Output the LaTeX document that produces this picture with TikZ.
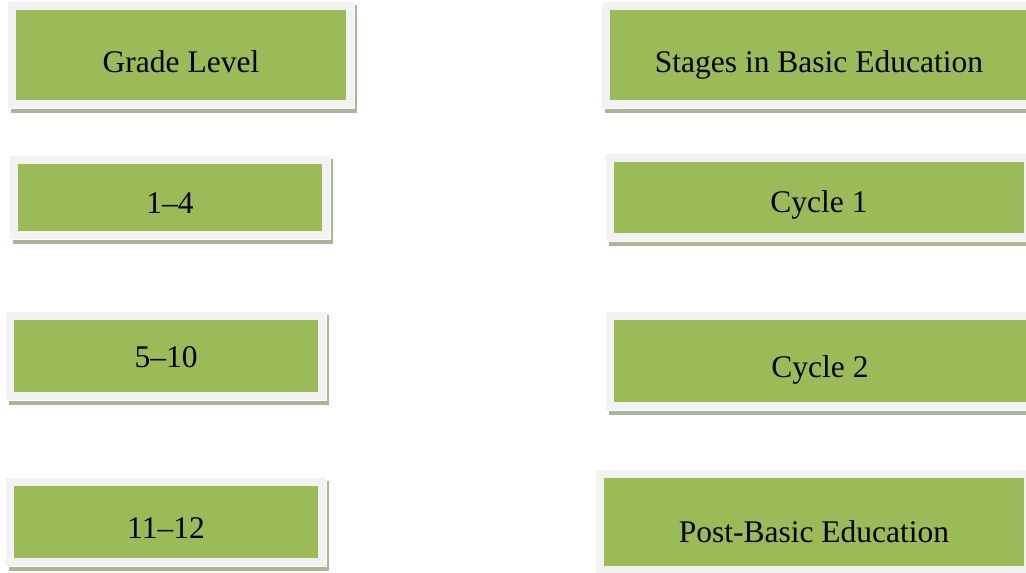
\documentclass[tikz,border=0pt]{standalone}
\usepackage{fontspec}
\setmainfont{Liberation Serif}
\usetikzlibrary{backgrounds}
\definecolor{boxgreen}{HTML}{9BBB59}
\definecolor{boxframe}{HTML}{F2F2F2}
\definecolor{boxshadow}{HTML}{A9B596}
\tikzset{
  x=1pt, y=-1pt,
  greenbox/.style={fill=boxgreen, inner sep=0pt, text depth=0pt,
    font=\fontsize{31.5}{36}\selectfont, text=black},
}
\newcommand{\gbox}[7]{% name, x1, y1, x2, y2, baseline offset, text
  \node[greenbox, minimum width=#4-#2, minimum height=#5-#3, text height=2*#6]
    (#1) at ({(#2+#4)/2},{(#3+#5)/2}) {#7};
  \begin{pgfonlayer}{background}
    \fill[boxshadow] ([shift={(-5,-5)}]#1.north west) rectangle ([shift={(11,13)}]#1.south east);
    \fill[white] ([shift={(-8,-8)}]#1.north west) rectangle ([shift={(9,9)}]#1.south east);
    \fill[boxframe] ([shift={(-8,-8)}]#1.north west) rectangle ([shift={(8,8)}]#1.south east);
  \end{pgfonlayer}
}
\begin{document}
\begin{tikzpicture}
\useasboundingbox (0,0) rectangle (1026,573);
\clip (0,0) rectangle (1026,573);
\gbox{grade}{16}{10}{346}{100}{17.7}{Grade Level}
\gbox{stages}{610}{10}{1028}{100}{17.7}{Stages in Basic Education}
\gbox{g14}{18}{164}{322}{231}{15.5}{1–4}
\gbox{cyc1}{614}{162}{1024}{233}{15.2}{Cycle 1}
\gbox{g510}{14}{320}{318}{392}{11.7}{5–10}
\gbox{cyc2}{614}{320}{1026}{402}{16}{Cycle 2}
\gbox{g1112}{14}{486}{318}{558}{16}{11–12}
\gbox{post}{604}{478}{1024}{566}{20}{Post-Basic Education}
\end{tikzpicture}
\end{document}
